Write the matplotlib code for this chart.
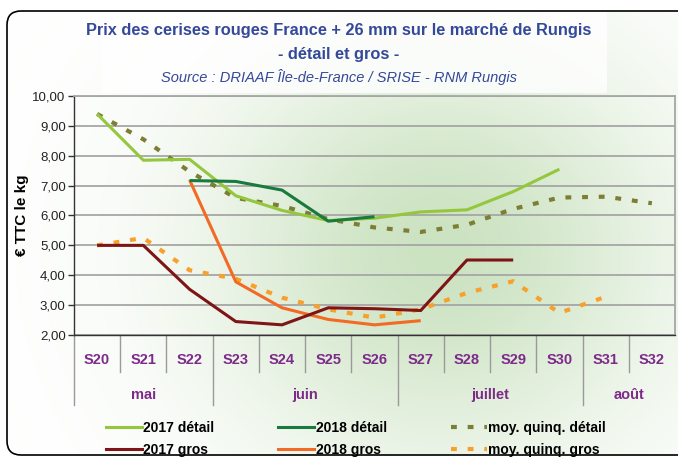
import numpy as np
import matplotlib.pyplot as plt
from matplotlib.patches import FancyBboxPatch, Rectangle
from matplotlib.lines import Line2D
import matplotlib.transforms as mtransforms

plt.rcParams['font.family'] = ['Liberation Sans', 'DejaVu Sans']

# data
weeks = ["S20", "S21", "S22", "S23", "S24", "S25", "S26",
         "S27", "S28", "S29", "S30", "S31", "S32"]
months = ["mai", "juin", "juillet", "août"]
month_spans = [(0, 2), (3, 6), (7, 10), (11, 12)]

detail_2017 = [9.40, 7.85, 7.88, 6.66, 6.17, 5.83, 5.91, 6.12, 6.19, 6.80, 7.55]
detail_2018 = [None, None, 7.17, 7.14, 6.85, 5.81, 5.96]
moy_detail = [9.40, 8.55, 7.47, 6.59, 6.32, 5.88, 5.60, 5.45, 5.69, 6.22, 6.60, 6.63, 6.41]
gros_2017 = [5.00, 5.00, 3.53, 2.45, 2.34, 2.91, 2.88, 2.82, 4.51, 4.51]
gros_2018 = [None, None, 7.19, 3.78, 2.91, 2.52, 2.34, 2.48]
moy_gros = [5.00, 5.25, 4.17, 3.88, 3.25, 2.86, 2.58, 2.86, 3.41, 3.80, 2.74, 3.28]

def as_arr(vals):
    return np.array([np.nan if v is None else v for v in vals], dtype=float)

W, H = 678, 458
fig = plt.figure(figsize=(W / 100, H / 100), dpi=100)

# background gradient inside the rounded frame
bg = fig.add_axes([0, 0, 1, 1], zorder=-10)
bg.set_xlim(0, W)
bg.set_ylim(H, 0)
bg.axis("off")
yy, xx = np.mgrid[0:H, 0:W]
t = np.exp(-((xx - 440) / 230.0) ** 2 - ((yy - 250) / 210.0) ** 2)
white = np.array([1.0, 1.0, 1.0])
green = np.array([0.80, 0.89, 0.76])
img = white * (1 - t[..., None]) + green * t[..., None]
im = bg.imshow(img, extent=(0, W, H, 0), aspect="auto", interpolation="bilinear")
frame = FancyBboxPatch((7, 11), 740, 444, boxstyle="round,pad=0,rounding_size=14",
                       transform=bg.transData, facecolor="none", edgecolor="black", lw=1.2)
bg.add_patch(frame)
im.set_clip_path(frame)
bg.add_patch(Rectangle((102, 12), 505, 81, facecolor="white", edgecolor="none", alpha=0.8))

fig.text(0.5, 1 - 30 / H, "Prix des cerises rouges France + 26 mm sur le marché de Rungis",
         ha="center", va="center", fontsize=11.8, fontweight="bold", color="#34499A")
fig.text(0.5, 1 - 55 / H, "- détail et gros -", ha="center", va="center",
         fontsize=11.8, fontweight="bold", color="#34499A")
fig.text(0.5, 1 - 77 / H, "Source : DRIAAF Île-de-France / SRISE - RNM Rungis",
         ha="center", va="center", fontsize=10.5, style="italic", color="#34499A")

ax = fig.add_axes([74 / W, 1 - 335 / H, (675 - 74) / W, (335 - 96) / H])
ax.patch.set_alpha(0)
x = np.arange(len(weeks))

ax.plot(x[:len(detail_2017)], as_arr(detail_2017), color="#94C73D", lw=2.2, solid_capstyle="butt", zorder=3)
ax.plot(x[:len(detail_2018)], as_arr(detail_2018), color="#187A3C", lw=2.2, solid_capstyle="butt", zorder=4)
ax.plot(x[:len(moy_detail)], as_arr(moy_detail), color="#7D7D33", lw=3, ls=(0, (1.4, 2.6)), zorder=2)
ax.plot(x[:len(gros_2017)], as_arr(gros_2017), color="#7E1416", lw=2.2, solid_capstyle="butt", zorder=4)
ax.plot(x[:len(gros_2018)], as_arr(gros_2018), color="#F26A24", lw=2.2, solid_capstyle="butt", zorder=3)
ax.plot(x[:len(moy_gros)], as_arr(moy_gros), color="#F7A02A", lw=3, ls=(0, (1.4, 2.6)), zorder=2)

ax.set_xlim(-0.5, len(weeks) - 0.5)
ax.set_ylim(2, 10)
ax.set_yticks(np.arange(2, 11, 1))
ax.set_yticklabels([f"{v:.2f}".replace(".", ",") for v in np.arange(2, 11, 1)],
                   fontsize=9.5, color="#222222")
ax.tick_params(axis="y", length=4, width=1, color="#333333", pad=2)
ax.set_xticks([])
ax.grid(axis="y", color="#A6A6A6", lw=1.3)
ax.set_axisbelow(True)
for side in ["top", "right"]:
    ax.spines[side].set_color("#A6A6A6")
    ax.spines[side].set_linewidth(1.3)
ax.spines["left"].set_color("#333333")
ax.spines["bottom"].set_color("#333333")
ax.spines["left"].set_linewidth(1.0)
ax.spines["bottom"].set_linewidth(1.0)
ax.set_ylabel("€ TTC le kg", fontsize=11, fontweight="bold")
ax.yaxis.set_label_coords(-(74 - 29) / (675 - 74), 0.5)

# two-level category axis
trans = mtransforms.blended_transform_factory(ax.transData, ax.transAxes)
sep_col = "#9A9A9A"
for i, w in enumerate(weeks):
    ax.text(i, -0.103, w, transform=trans, ha="center", va="center",
            fontsize=10.5, fontweight="bold", color="#7D2A8A")
month_edges = [s for s, e in month_spans] + [len(weeks)]
for i in range(1, len(weeks)):
    bottom = -0.293 if i in month_edges else -0.155
    ax.plot([i - 0.5, i - 0.5], [0, bottom], transform=trans, color=sep_col,
            lw=1, clip_on=False)
ax.plot([-0.5, -0.5], [0, -0.293], transform=trans, color=sep_col, lw=1, clip_on=False)
for name, (s, e) in zip(months, month_spans):
    ax.text((s + e) / 2, -0.25, name, transform=trans, ha="center", va="center",
            fontsize=10.5, fontweight="bold", color="#7D2A8A")

handles = [
    Line2D([], [], color="#94C73D", lw=2.2),
    Line2D([], [], color="#7E1416", lw=2.2),
    Line2D([], [], color="#187A3C", lw=2.2),
    Line2D([], [], color="#F26A24", lw=2.2),
    Line2D([], [], color="#7D7D33", lw=3, ls=(0, (1.4, 2.6))),
    Line2D([], [], color="#F7A02A", lw=3, ls=(0, (1.4, 2.6))),
]
labels = ["2017 détail", "2017 gros", "2018 détail", "2018 gros",
          "moy. quinq. détail", "moy. quinq. gros"]
fig.legend(handles, labels, ncol=3, loc="center", bbox_to_anchor=(356 / W, 1 - 439 / H),
           frameon=False, prop={"size": 10, "weight": "bold"}, handlelength=2.6,
           handletextpad=0.1, columnspacing=4.6, labelspacing=0.6)

fig.savefig("out.png", dpi=100)
